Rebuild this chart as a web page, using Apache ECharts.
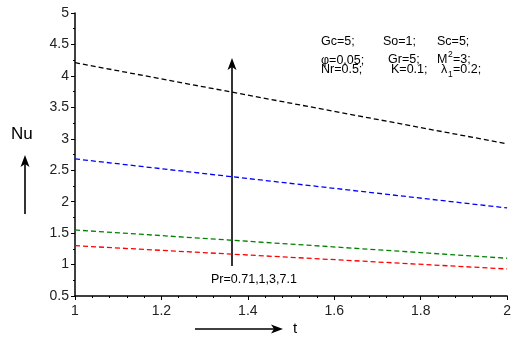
<!DOCTYPE html>
<html><head><meta charset="utf-8">
<script src="https://cdn.jsdelivr.net/npm/echarts@6/dist/echarts.min.js"></script>
<style>html,body{margin:0;padding:0;background:#fff}#c{width:514px;height:338px}</style>
</head><body><div id="c"></div>
<script>
const tValues = [1, 2];
const nuPr71 = [1.30, 0.93];
const nuPr1 = [1.55, 1.10];
const nuPr3 = [2.68, 1.90];
const nuPr7 = [4.21, 2.92];
const seriesNames = ['Pr=0.71', 'Pr=1', 'Pr=3', 'Pr=7.1'];
const seriesColors = ['#ff0000', '#008000', '#0000ff', '#000000'];
const seriesValues = [nuPr71, nuPr1, nuPr3, nuPr7];
const xTicks = [1, 1.2, 1.4, 1.6, 1.8, 2];
const yTicks = [0.5, 1, 1.5, 2, 2.5, 3, 3.5, 4, 4.5, 5];

const chart = echarts.init(document.getElementById('c'), null, {renderer: 'canvas'});
const font = 'Liberation Sans, Arial, sans-serif';
const series = seriesValues.map((vals, i) => ({
  name: seriesNames[i], type: 'line', symbol: 'none', silent: true,
  data: vals.map((v, j) => [tValues[j], v]),
  lineStyle: {color: seriesColors[i], width: 1.3, type: [5, 3]}
}));

function arrow(x1, y1, x2, y2) {
  const dx = x2 - x1, dy = y2 - y1, len = Math.hypot(dx, dy);
  const ux = dx / len, uy = dy / len, hl = 12, hw = 4.5;
  const bx = x2 - ux * hl, by = y2 - uy * hl;
  return [
    {type: 'line', shape: {x1: x1, y1: y1, x2: bx + ux * 3, y2: by + uy * 3}, style: {stroke: '#000', lineWidth: 1.6}},
    {type: 'polygon', shape: {points: [[x2, y2], [bx - uy * hw, by + ux * hw], [bx + ux * 3, by + uy * 3], [bx + uy * hw, by - ux * hw]]}, style: {fill: '#000'}}
  ];
}
const txt = (x, y, text, size) => ({type: 'text', x: x, y: y, style: {text: text, font: size + 'px ' + font, fill: '#000', textVerticalAlign: 'middle'}});

chart.setOption({
  animation: false,
  backgroundColor: '#fff',
  grid: {left: 75, right: 5, top: 13, bottom: 42},
  xAxis: {
    type: 'value', min: 1, max: 2, interval: 0.2,
    axisLine: {lineStyle: {color: '#000', width: 1.5}},
    axisTick: {show: true, length: 4, lineStyle: {color: '#000'}},
    minorTick: {show: true, splitNumber: 5, length: 2, lineStyle: {color: '#000'}},
    splitLine: {show: false},
    axisLabel: {color: '#222', fontFamily: font, fontSize: 14, margin: 8,
      formatter: v => { const s = xTicks.find(t => Math.abs(t - v) < 1e-9); return s === undefined ? '' : String(s); }}
  },
  yAxis: {
    type: 'value', min: 0.5, max: 5, interval: 0.5,
    axisLine: {show: true, lineStyle: {color: '#000', width: 1.5}},
    axisTick: {show: true, length: 4, lineStyle: {color: '#000'}},
    minorTick: {show: true, splitNumber: 2, length: 2, lineStyle: {color: '#000'}},
    splitLine: {show: false},
    axisLabel: {color: '#222', fontFamily: font, fontSize: 14, margin: 6,
      formatter: v => { const s = yTicks.find(t => Math.abs(t - v) < 1e-9); return s === undefined ? '' : String(s); }}
  },
  series: series,
  graphic: [].concat(
    arrow(25, 214, 25, 155),
    arrow(195, 329, 283, 329),
    arrow(232, 266, 232, 58),
    [
      txt(11, 134, 'Nu', 17),
      txt(293, 329, 't', 15),
      txt(211, 280, 'Pr=0.71,1,3,7.1', 12.5),
      txt(321, 42, 'Gc=5;', 12.5),
      txt(383, 42, 'So=1;', 12.5),
      txt(437, 42, 'Sc=5;', 12.5),
      txt(321, 61, 'φ=0.05;', 12.5),
      txt(388, 60, 'Gr=5;', 12.5),
      txt(437, 60, 'M', 12.5),
      txt(448, 55, '2', 8.5),
      txt(453, 60, '=3;', 12.5),
      txt(321, 70, 'Nr=0.5;', 12.5),
      txt(391, 70, 'K=0.1;', 12.5),
      txt(441, 70, 'λ', 12.5),
      txt(448, 75, '1', 8.5),
      txt(453, 70, '=0.2;', 12.5)
    ]
  )
});
</script></body></html>
